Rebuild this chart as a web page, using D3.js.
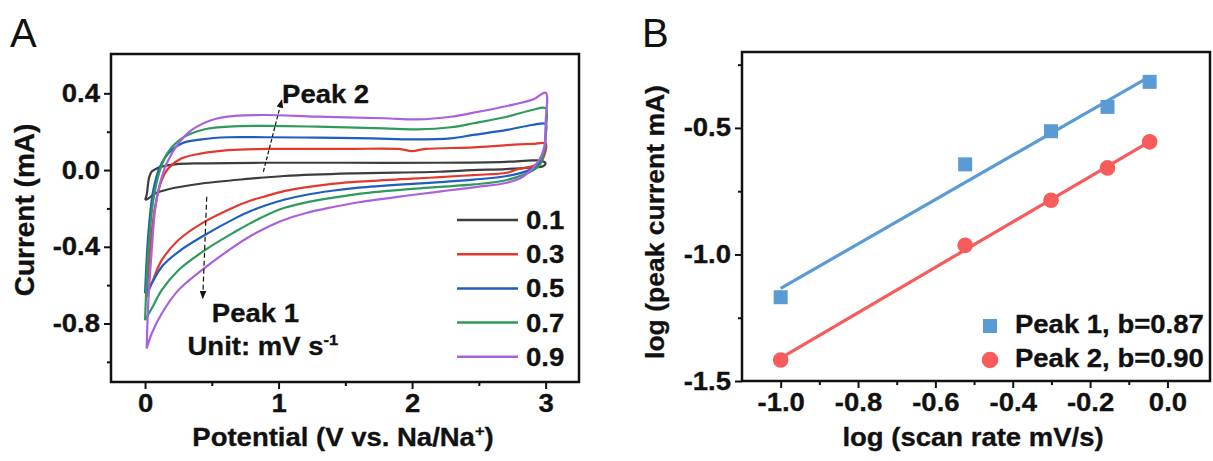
<!DOCTYPE html>
<html>
<head>
<meta charset="utf-8">
<script src="https://cdn.jsdelivr.net/npm/d3@7"></script>
<style>
  body { margin: 0; background: #fff; }
  text { font-family: "Liberation Sans", Arial, sans-serif; font-weight: bold; fill: #111; stroke: #111; stroke-width: 0.3px; }
</style>
</head>
<body>
<div class="canvas"></div>
<script>
// ---- panel A: CV loops, points are [potential V, current mA]
const scanRates = ['0.1', '0.3', '0.5', '0.7', '0.9'];
const cvColors = ['#3d3d3d', '#e2382f', '#1f5dbf', '#2f9a5c', '#a862e0'];

const cv01 = [[0,-0.156],[0.012,-0.13],[0.03,-0.04],[0.05,-0.008],[0.08,0.005],[0.125,0.018],[0.225,0.03],
  [0.42,0.035],[0.9,0.038],[1.5,0.038],[2.2,0.038],[2.7,0.043],[2.9,0.05],[2.97,0.048],[3.0,0.035],
  [2.98,0.02],[2.9,0.014],[2.7,0.005],[2.45,0],[2.2,-0.009],[1.54,-0.017],[1.04,-0.031],[0.79,-0.045],
  [0.425,-0.07],[0.175,-0.1],[0.075,-0.122],[0.025,-0.148],[0,-0.156]];
const cv03 = [[0.012,-0.661],[0.037,-0.417],[0.075,-0.191],[0.125,-0.052],[0.175,0.009],[0.275,0.061],
  [0.425,0.087],[0.624,0.104],[0.9,0.11],[1.5,0.11],[1.9,0.11],[2.0,0.099],[2.1,0.11],[2.46,0.118],
  [2.71,0.13],[2.9,0.136],[3.0,0.138],[3.0,0.1],[2.97,0.05],[2.9,0.02],[2.8,0.006],[2.71,-0.014],
  [2.46,-0.026],[2.21,-0.037],[2.0,-0.045],[1.6,-0.06],[1.4,-0.072],[1.2,-0.09],[1.04,-0.11],[0.9,-0.137],
  [0.787,-0.16],[0.674,-0.191],[0.425,-0.278],[0.25,-0.365],[0.125,-0.47],[0.05,-0.591],[0.012,-0.661]];
const cv05 = [[0,-0.643],[0.025,-0.33],[0.062,-0.104],[0.112,0.017],[0.175,0.087],[0.275,0.139],[0.425,0.16],
  [0.624,0.171],[0.9,0.171],[1.29,0.169],[1.7,0.165],[2.0,0.16],[2.29,0.165],[2.46,0.183],[2.71,0.209],
  [2.9,0.235],[3.0,0.24],[3.0,0.18],[2.99,0.1],[2.96,0.04],[2.88,0],[2.71,-0.031],[2.46,-0.05],
  [2.21,-0.063],[2.0,-0.072],[1.6,-0.092],[1.4,-0.108],[1.2,-0.13],[1.04,-0.155],[0.9,-0.185],
  [0.787,-0.215],[0.674,-0.252],[0.425,-0.348],[0.25,-0.426],[0.125,-0.504],[0.05,-0.591],[0.012,-0.63],[0,-0.643]];
const cv07 = [[0,-0.783],[0.025,-0.417],[0.062,-0.157],[0.112,0],[0.175,0.096],[0.275,0.165],[0.425,0.209],
  [0.624,0.226],[0.9,0.23],[1.29,0.226],[1.79,0.217],[2.04,0.212],[2.29,0.223],[2.46,0.244],[2.71,0.278],
  [2.9,0.313],[3.0,0.322],[3.0,0.2],[2.99,0.1],[2.96,0.03],[2.91,0],[2.71,-0.052],[2.46,-0.075],
  [2.21,-0.088],[2.0,-0.098],[1.6,-0.124],[1.4,-0.145],[1.2,-0.17],[1.04,-0.198],[0.9,-0.238],
  [0.787,-0.278],[0.674,-0.322],[0.45,-0.417],[0.25,-0.522],[0.125,-0.626],[0.05,-0.722],[0,-0.783]];
const cv09 = [[0.012,-0.93],[0.025,-0.678],[0.05,-0.417],[0.075,-0.209],[0.112,-0.07],[0.162,0.035],
  [0.25,0.139],[0.35,0.209],[0.5,0.261],[0.674,0.282],[0.9,0.287],[1.29,0.278],[1.79,0.27],[2.04,0.264],
  [2.29,0.278],[2.46,0.299],[2.71,0.334],[2.91,0.369],[3.0,0.403],[3.0,0.25],[2.99,0.12],[2.95,0.05],
  [2.83,-0.035],[2.71,-0.066],[2.46,-0.09],[2.25,-0.108],[2.0,-0.13],[1.6,-0.168],[1.4,-0.194],
  [1.2,-0.225],[1.04,-0.26],[0.9,-0.303],[0.787,-0.345],[0.674,-0.395],[0.425,-0.522],[0.25,-0.626],
  [0.125,-0.748],[0.05,-0.852],[0.012,-0.93]];
const cvLoops = [cv01, cv03, cv05, cv07, cv09];

const xTicksA = [0, 1, 2, 3];
const xMinorA = [0.5, 1.5, 2.5];
const yTicksA = [-0.8, -0.4, 0, 0.4];
const yMinorA = [-1.0, -0.6, -0.2, 0.2];

// ---- panel B: log(scan rate) vs log(peak current)
const logRate = [-1.0, -0.523, -0.301, -0.155, -0.046];
const peak1 = [-1.169, -0.644, -0.513, -0.417, -0.318];
const peak2 = [-1.417, -0.964, -0.786, -0.658, -0.555];
const peakLabels = ['Peak 1, b=0.87', 'Peak 2, b=0.90'];
const peakColors = ['#5b9bd5', '#f75b5b'];

const xTicksB = [-1.0, -0.8, -0.6, -0.4, -0.2, 0.0];
const xMinorB = [-0.9, -0.7, -0.5, -0.3, -0.1];
const yTicksB = [-1.5, -1.0, -0.5];
const yMinorB = [-1.25, -0.75, -0.25];

const W = 1213, H = 461;
const SX = 1.1; // glyphs in the figure are a bit wide
const svg = d3.select('.canvas').append('svg')
  .attr('width', W)
  .attr('height', H);

const defs = svg.append('defs');
defs.append('marker')
  .attr('id', 'arrow')
  .attr('viewBox', '0 0 10 10')
  .attr('refX', 9).attr('refY', 5)
  .attr('markerWidth', 7).attr('markerHeight', 7)
  .attr('orient', 'auto-start-reverse')
  .append('path')
  .attr('d', 'M0,1 L10,5 L0,9 Z')
  .attr('fill', '#111');

const fmt1 = d => d.toFixed(1);

function label(g, x, y, size, anchor) {
  return g.append('text')
    .attr('transform', `translate(${x},${y}) scale(${SX},1)`)
    .attr('text-anchor', anchor || 'start')
    .style('font-size', size + 'px');
}

function frameAxes(g, x, y, xt, xm, yt, ym, xfmt) {
  const [x0, x1] = x.range();
  const [y0, y1] = y.range();
  g.append('g')
    .attr('transform', `translate(0,${y0})`)
    .call(d3.axisBottom(x).tickValues(xm).tickSize(4).tickFormat(''))
    .call(s => s.select('.domain').remove());
  g.append('g')
    .attr('transform', `translate(0,${y0})`)
    .call(d3.axisBottom(x).tickValues(xt).tickSize(7).tickPadding(5).tickFormat(xfmt))
    .call(s => s.select('.domain').remove());
  g.append('g')
    .attr('transform', `translate(${x0},0)`)
    .call(d3.axisLeft(y).tickValues(ym).tickSize(4).tickFormat(''))
    .call(s => s.select('.domain').remove());
  g.append('g')
    .attr('transform', `translate(${x0},0)`)
    .call(d3.axisLeft(y).tickValues(yt).tickSize(7).tickPadding(3).tickFormat(fmt1))
    .call(s => s.select('.domain').remove());
  g.selectAll('.tick line').attr('stroke', '#111').attr('stroke-width', 2);
  g.selectAll('.tick text')
    .attr('transform', `scale(${SX},1)`)
    .style('font-family', '"Liberation Sans", Arial, sans-serif')
    .style('font-weight', 'bold')
    .style('font-size', '25px')
    .attr('fill', '#111');
  g.append('rect')
    .attr('x', x0).attr('y', y1)
    .attr('width', x1 - x0).attr('height', y0 - y1)
    .attr('fill', 'none')
    .attr('stroke', '#111')
    .attr('stroke-width', 2.5);
}

// ================= panel A =================
const xA = d3.scaleLinear().domain([-0.255, 3.25]).range([111, 579]);
const yA = d3.scaleLinear().domain([-1.105, 0.605]).range([382, 54]);
const gA = svg.append('g');

defs.append('clipPath').attr('id', 'clipA')
  .append('rect').attr('x', 111).attr('y', 54).attr('width', 468).attr('height', 328);

const cvLine = d3.line()
  .x(d => xA(d[0]))
  .y(d => yA(d[1]))
  .curve(d3.curveCatmullRom.alpha(0.5));

gA.append('g').attr('clip-path', 'url(#clipA)')
  .selectAll('path')
  .data(cvLoops)
  .join('path')
  .attr('d', cvLine)
  .attr('fill', 'none')
  .attr('stroke', (d, i) => cvColors[i])
  .attr('stroke-width', 2.2);

frameAxes(gA, xA, yA, xTicksA, xMinorA, yTicksA, yMinorA, d3.format('d'));

// legend A
const legA = gA.append('g');
scanRates.forEach((r, i) => {
  const yy = 220 + i * 34.2;
  legA.append('line')
    .attr('x1', 457).attr('x2', 518).attr('y1', yy).attr('y2', yy)
    .attr('stroke', cvColors[i]).attr('stroke-width', 2.5);
  label(legA, 526, yy + 9, 25).text(r);
});

// peak arrows
gA.append('line')
  .attr('x1', xA(0.886)).attr('y1', yA(-0.009))
  .attr('x2', xA(1.024)).attr('y2', yA(0.365))
  .attr('stroke', '#111').attr('stroke-width', 1.2)
  .attr('stroke-dasharray', '4,2')
  .attr('marker-end', 'url(#arrow)');
gA.append('line')
  .attr('x1', xA(0.462)).attr('y1', yA(-0.139))
  .attr('x2', xA(0.432)).attr('y2', yA(-0.669))
  .attr('stroke', '#111').attr('stroke-width', 1.2)
  .attr('stroke-dasharray', '5,3')
  .attr('marker-end', 'url(#arrow)');

label(gA, xA(1.026), yA(0.35), 25).text('Peak 2');
label(gA, xA(0.5), yA(-0.79), 25).text('Peak 1');
const unit = label(gA, xA(0.318), yA(-0.966), 25);
unit.append('tspan').text('Unit: mV s');
unit.append('tspan').attr('dy', -10).style('font-size', '15px').text('-1');

// axis titles A
const xtA = label(gA, 343, 446, 25, 'middle');
xtA.append('tspan').text('Potential (V vs. Na/Na');
xtA.append('tspan').attr('dy', -10).style('font-size', '15px').text('+');
xtA.append('tspan').attr('dy', 10).text(')');

gA.append('text')
  .attr('transform', 'translate(34,210) rotate(-90)')
  .attr('text-anchor', 'middle')
  .style('font-size', '28px')
  .text('Current (mA)');

svg.append('text')
  .attr('x', 10).attr('y', 47)
  .style('font-size', '40px').style('font-weight', 'normal').style('stroke-width', 0)
  .text('A');

// ================= panel B =================
const xB = d3.scaleLinear().domain([-1.1, 0.11]).range([742, 1210]);
const yB = d3.scaleLinear().domain([-1.5, -0.2]).range([381, 52]);
const gB = svg.append('g');

function fit(xs, ys) {
  const mx = d3.mean(xs), my = d3.mean(ys);
  const sxy = d3.sum(xs, (v, i) => (v - mx) * (ys[i] - my));
  const sxx = d3.sum(xs, v => (v - mx) * (v - mx));
  const b = sxy / sxx;
  return [b, my - b * mx];
}
const xExt = d3.extent(logRate);
[peak1, peak2].forEach((ys, k) => {
  const [b, a] = fit(logRate, ys);
  gB.append('line')
    .attr('x1', xB(xExt[0])).attr('y1', yB(a + b * xExt[0]))
    .attr('x2', xB(xExt[1])).attr('y2', yB(a + b * xExt[1]))
    .attr('stroke', peakColors[k]).attr('stroke-width', 3.2);
});

gB.selectAll('rect.p1')
  .data(logRate)
  .join('rect')
  .attr('class', 'p1')
  .attr('x', d => xB(d) - 7)
  .attr('y', (d, i) => yB(peak1[i]) - 7)
  .attr('width', 14).attr('height', 14)
  .attr('fill', peakColors[0]);

gB.selectAll('circle.p2')
  .data(logRate)
  .join('circle')
  .attr('class', 'p2')
  .attr('cx', d => xB(d))
  .attr('cy', (d, i) => yB(peak2[i]))
  .attr('r', 7.8)
  .attr('fill', peakColors[1]);

frameAxes(gB, xB, yB, xTicksB, xMinorB, yTicksB, yMinorB, fmt1);

// legend B
gB.append('rect')
  .attr('x', 983).attr('y', 319).attr('width', 14).attr('height', 14)
  .attr('fill', peakColors[0]);
gB.append('circle')
  .attr('cx', 990).attr('cy', 360).attr('r', 8.3)
  .attr('fill', peakColors[1]);
peakLabels.forEach((t, i) => {
  label(gB, 1015, 333 + i * 34, 25).text(t);
});

label(gB, 973, 446, 25, 'middle').text('log (scan rate mV/s)');

gB.append('text')
  .attr('transform', 'translate(664,222) rotate(-90)')
  .attr('text-anchor', 'middle')
  .style('font-size', '26.5px')
  .text('log (peak current mA)');

svg.append('text')
  .attr('x', 642).attr('y', 47)
  .style('font-size', '40px').style('font-weight', 'normal').style('stroke-width', 0)
  .text('B');
</script>
</body>
</html>
